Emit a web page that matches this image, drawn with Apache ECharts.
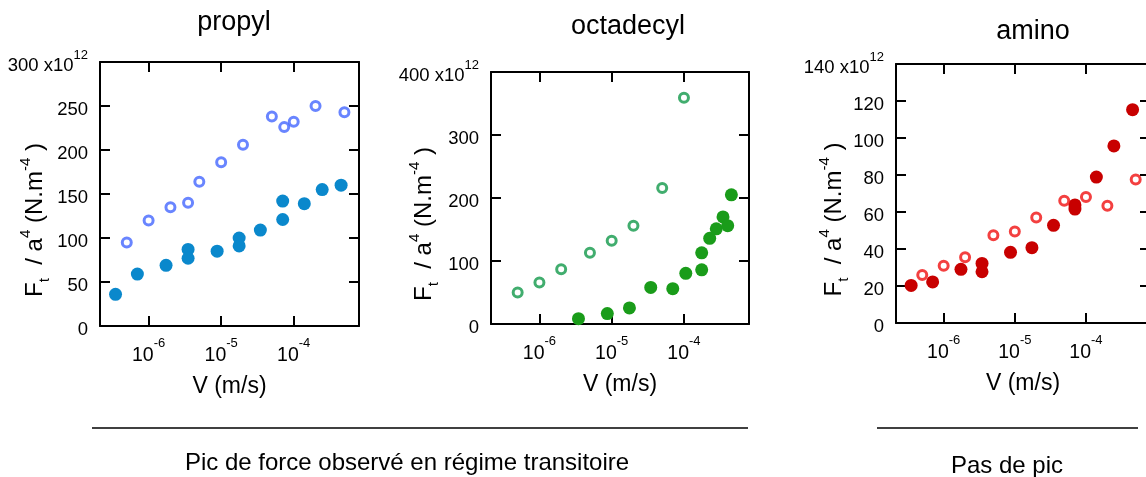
<!DOCTYPE html>
<html>
<head>
<meta charset="utf-8">
<script src="https://cdn.jsdelivr.net/npm/echarts@6/dist/echarts.min.js"></script>
<style>
html,body{margin:0;padding:0;background:#fff;}
#c{width:1146px;height:477px;}
</style>
</head>
<body>
<div id="c"></div>
<script>
// ---------- DATA (V in m/s, F in units of 1e12 N.m^-4) ----------
var panelTitles = ['propyl', 'octadecyl', 'amino'];
var xTickExponents = [-6, -5, -4];
var yMax = [300, 400, 140];
var yStep = [50, 100, 20];

var propylOpenV = [5.0e-7, 1.0e-6, 2.0e-6, 3.5e-6, 5.0e-6, 1.0e-5, 2.0e-5, 5.0e-5, 7.4e-5, 1.0e-4, 2.0e-4, 5.0e-4];
var propylOpenF = [95, 120, 135, 140, 164, 186, 206, 238, 226, 232, 250, 243];
var propylFillV = [3.5e-7, 7.0e-7, 1.74e-6, 3.5e-6, 3.5e-6, 8.8e-6, 1.77e-5, 1.77e-5, 3.47e-5, 7.05e-5, 7.05e-5, 1.4e-4, 2.47e-4, 4.5e-4];
var propylFillF = [36, 59, 69, 87, 77, 85, 100, 91, 109, 142, 121, 139, 155, 160];

var octaOpenV = [5.0e-7, 1.0e-6, 2.0e-6, 5.0e-6, 1.0e-5, 2.0e-5, 5.0e-5, 1.0e-4];
var octaOpenF = [50, 66, 87, 113, 132, 156, 216, 359];
var octaFillV = [3.47e-6, 8.7e-6, 1.76e-5, 3.47e-5, 7.0e-5, 1.06e-4, 1.76e-4, 1.76e-4, 2.27e-4, 2.8e-4, 3.47e-4, 4.03e-4, 4.53e-4];
var octaFillF = [8.5, 16.5, 25.5, 58, 56, 80.5, 113, 86, 136, 151, 170, 156, 205];

var aminoFillV = [3.49e-7, 7.0e-7, 1.75e-6, 3.46e-6, 3.46e-6, 8.7e-6, 1.74e-5, 3.5e-5, 7.0e-5, 7.0e-5, 1.4e-4, 2.47e-4, 4.52e-4];
var aminoFillF = [20.3, 22.2, 29, 32.2, 27.7, 38.2, 40.7, 52.8, 63.8, 61.6, 78.9, 95.7, 115.3];
var aminoOpenV = [5.0e-7, 1.0e-6, 2.0e-6, 5.0e-6, 1.0e-5, 2.0e-5, 4.95e-5, 1.0e-4, 2.0e-4, 5.0e-4];
var aminoOpenF = [25.9, 31, 35.5, 47.4, 49.5, 57, 66.1, 68.1, 63.4, 77.6];

var footerLabels = ['Pic de force observé en régime transitoire', 'Pas de pic'];

// ---------- STYLE ----------
var FONT = "'Liberation Sans', Arial, sans-serif";
var grids = [
  {left: 100, top: 62, width: 259, height: 264, outerBoundsMode: 'none', containLabel: false},
  {left: 491, top: 72, width: 258, height: 252, outerBoundsMode: 'none', containLabel: false},
  {left: 896, top: 64, width: 254, height: 259, outerBoundsMode: 'none', containLabel: false}
];
var xRange = [-6.67, -3.10];
var colors = [
  {open: '#4466ff', fill: '#0a88cc'},
  {open: '#11994a', fill: '#1a9c1a'},
  {open: '#f01010', fill: '#c80000'}
];
var panelData = [
  [[propylOpenV, propylOpenF, 'open'], [propylFillV, propylFillF, 'fill']],
  [[octaOpenV, octaOpenF, 'open'], [octaFillV, octaFillF, 'fill']],
  [[aminoFillV, aminoFillF, 'fill'], [aminoOpenV, aminoOpenF, 'open']]
];
var nameGaps = [48, 50, 45];

function pts(v, f) {
  return v.map(function (x, i) { return [Math.log10(x), f[i]]; });
}
var lineStyle = {color: '#000', width: 2};
var xAxes = [], yAxes = [], series = [], titles = [];
var xticks = xTickExponents.slice();

grids.forEach(function (g, k) {
  xAxes.push({
    type: 'value', gridIndex: k, position: 'bottom', min: xRange[0], max: xRange[1],
    axisLine: {show: true, onZero: false, lineStyle: lineStyle},
    axisTick: {show: true, inside: true, length: 10, lineStyle: lineStyle, customValues: xticks},
    axisLabel: {show: true, margin: 11, customValues: xticks,
      formatter: function (v) { return '{b|10}{s|' + Math.round(v) + '}'; },
      rich: {
        b: {fontFamily: FONT, fontSize: 19.5, color: '#000', lineHeight: 29, verticalAlign: 'bottom'},
        s: {fontFamily: FONT, fontSize: 13, color: '#000', lineHeight: 14, verticalAlign: 'top'}
      }},
    splitLine: {show: false},
    name: 'V (m/s)', nameLocation: 'middle', nameGap: 49, nameMoveOverlap: false,
    nameTextStyle: {fontFamily: FONT, fontSize: 23, color: '#000'}
  });
  xAxes.push({
    type: 'value', gridIndex: k, position: 'top', min: xRange[0], max: xRange[1],
    axisLine: {show: true, onZero: false, lineStyle: lineStyle},
    axisTick: {show: true, inside: true, length: 10, lineStyle: lineStyle, customValues: xticks},
    axisLabel: {show: false}, splitLine: {show: false}
  });
  var top = yMax[k];
  yAxes.push({
    type: 'value', gridIndex: k, position: 'left', min: 0, max: top, interval: yStep[k],
    axisLine: {show: true, onZero: false, lineStyle: lineStyle},
    axisTick: {show: true, inside: true, length: 10, lineStyle: lineStyle},
    axisLabel: {show: true, margin: 12,
      formatter: function (v) { return v === top ? '{b|' + v + ' x10}{s|12}' : '{b|' + v + '}'; },
      rich: {
        b: {fontFamily: FONT, fontSize: 18.5, color: '#000', lineHeight: 26, verticalAlign: 'bottom'},
        s: {fontFamily: FONT, fontSize: 13, color: '#000', lineHeight: 14, verticalAlign: 'top'}
      }},
    splitLine: {show: false},
    name: '{m|F}{sub|t}{m|  / a}{sup|4}{m| (N.m}{sup|-4}{m| )}',
    nameLocation: 'middle', nameGap: nameGaps[k], nameRotate: 90, nameMoveOverlap: false,
    nameTextStyle: {fontFamily: FONT, fontSize: 24, color: '#000', padding: [0, 52, 0, 0],
      rich: {
        m: {fontFamily: FONT, fontSize: 24, color: '#000', lineHeight: 34, verticalAlign: 'middle'},
        sup: {fontFamily: FONT, fontSize: 15, color: '#000', lineHeight: 15, verticalAlign: 'top'},
        sub: {fontFamily: FONT, fontSize: 15, color: '#000', lineHeight: 15, verticalAlign: 'bottom'}
      }}
  });
  yAxes.push({
    type: 'value', gridIndex: k, position: 'right', min: 0, max: top, interval: yStep[k],
    axisLine: {show: true, onZero: false, lineStyle: lineStyle},
    axisTick: {show: true, inside: true, length: 10, lineStyle: lineStyle},
    axisLabel: {show: false}, splitLine: {show: false}
  });
  panelData[k].forEach(function (d) {
    var open = d[2] === 'open';
    series.push({
      type: 'scatter', xAxisIndex: 2 * k, yAxisIndex: 2 * k,
      data: pts(d[0], d[1]),
      symbol: 'circle', symbolSize: open ? 9 : 13,
      itemStyle: open ? {color: '#fff', borderColor: colors[k].open, borderWidth: 3}
                      : {color: colors[k].fill, borderWidth: 0, opacity: 1},
      emphasis: {disabled: true}, silent: true, animation: false
    });
  });
});

var titleSpecs = [[229, 4, 27], [623, 8, 27], [1028, 13, 27]];
titles = titleSpecs.map(function (s, i) {
  return {text: panelTitles[i], left: s[0], top: s[1], textAlign: 'center',
    textStyle: {fontFamily: FONT, fontSize: s[2], fontWeight: 'normal', color: '#000'}};
});

var chart = echarts.init(document.getElementById('c'), null, {renderer: 'canvas'});
chart.setOption({
  animation: false,
  backgroundColor: '#fff',
  title: titles,
  grid: grids,
  xAxis: xAxes,
  yAxis: yAxes,
  series: series,
  graphic: [
    {type: 'line', shape: {x1: 92, y1: 428, x2: 748, y2: 428}, style: {stroke: '#000', lineWidth: 1.5}},
    {type: 'line', shape: {x1: 877, y1: 428, x2: 1138, y2: 428}, style: {stroke: '#000', lineWidth: 1.5}},
    {type: 'text', x: 407, y: 463, style: {text: footerLabels[0], fontFamily: FONT, fontSize: 24, fill: '#000', textAlign: 'center', textVerticalAlign: 'middle'}},
    {type: 'text', x: 1007, y: 466, style: {text: footerLabels[1], fontFamily: FONT, fontSize: 24, fill: '#000', textAlign: 'center', textVerticalAlign: 'middle'}}
  ]
});
</script>
</body>
</html>
